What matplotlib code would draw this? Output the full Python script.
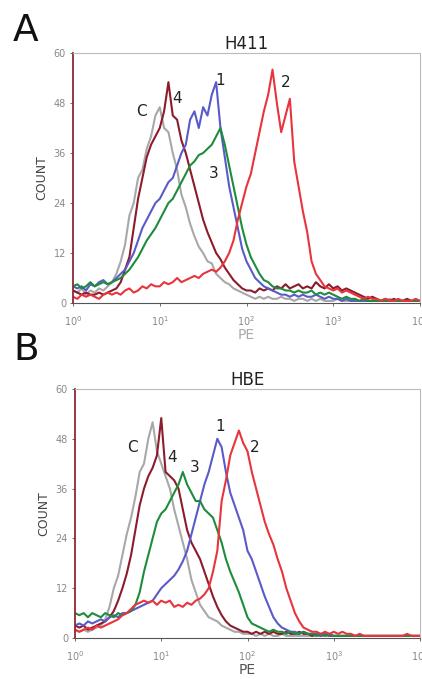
import matplotlib.pyplot as plt
import numpy as np

# histogram channels: log10(PE) from 0 to 4, step 0.05
logpe = np.arange(81) * 0.05
pe = 10 ** logpe

# ---- panel A : H411 ----
a_c = [3, 2.5, 3.5, 2, 3, 2.5, 3.5, 3, 4, 5,
       7, 10, 14, 21, 24, 30, 32, 37, 40, 45,
       47, 42, 41, 36, 32, 26, 23, 19, 16, 13.5,
       12, 10, 9.5, 7, 6, 5, 4.5, 3.5, 3, 2.5,
       2, 1.5, 1, 1.5, 1, 1.5, 1, 1, 1.5, 1,
       1, 0.5, 1, 1, 0.5, 1, 0.5, 1, 0.5, 0.5,
       0.5, 1, 0.5, 0.5, 0.5, 1, 0.5, 0.5, 0.5, 0.5,
       0.5, 0.5, 0.5, 1, 0.5, 0.5, 0.5, 0.5, 0.5, 0.5, 0.5]
a_4 = [3, 2.5, 2, 2.5, 2, 2, 2.5, 2, 2.5, 3,
       3.5, 5, 8, 11, 18, 25, 30, 35, 38, 40,
       42, 46, 53, 45, 44, 39, 36, 32, 28, 24,
       20, 17, 14.5, 12, 10.5, 8.5, 7, 5.5, 4.5, 3.5,
       3, 3, 2.5, 3.5, 3, 3.5, 3, 4, 3.5, 4.5,
       3.5, 4, 4.5, 3.5, 4, 3.5, 5, 4, 3.5, 4.5,
       3.5, 4, 3, 3.5, 3, 2.5, 2, 1.5, 1, 1.5,
       1, 0.5, 1, 0.5, 1, 0.5, 0.5, 1, 0.5, 0.5, 0.5]
a_1 = [4, 3.5, 4, 3, 4.5, 4, 5, 5.5, 4.5, 5,
       6, 7, 8, 10, 12, 15, 18, 20, 22, 24,
       25, 27, 29, 30, 33, 36, 38, 44, 46, 42,
       47, 45, 50, 53, 42, 35, 28, 23, 18, 13,
       10, 8, 6, 5, 4, 3.5, 3, 2.5, 2, 2,
       1.5, 2, 1.5, 2, 1.5, 1.5, 2, 1.5, 1, 1.5,
       1, 1, 0.5, 1, 0.5, 0.5, 0.5, 0.5, 0.5, 0.5,
       0.5, 0.5, 0.5, 0.5, 0.5, 0.5, 0.5, 0.5, 0.5, 0.5, 0.5]
a_3 = [4, 4.5, 3.5, 4, 5, 4, 4.5, 5, 4.5, 5,
       5.5, 6, 7, 8, 9.5, 11, 13, 15, 16.5, 18,
       20, 22, 24, 25, 27, 29, 31, 33, 34, 35.5,
       36, 37, 38, 40, 42, 38, 33, 28, 23, 18,
       14, 11, 9, 7, 5.5, 5, 4, 3.5, 3.5, 3,
       3, 2.5, 3, 2.5, 2.5, 3, 2, 2.5, 2, 2.5,
       2, 1.5, 1, 1.5, 1, 1, 0.5, 1, 0.5, 0.5,
       0.5, 0.5, 0.5, 0.5, 0.5, 0.5, 0.5, 0.5, 0.5, 0.5, 0.5]
a_2 = [1.5, 1, 2, 1.5, 2, 1.5, 1, 2, 2.5, 2,
       2.5, 2, 3, 3.5, 2.5, 3, 4, 3.5, 4.5, 4,
       4, 5, 4.5, 5, 6, 5, 5.5, 6, 6.5, 6,
       7, 7.5, 8, 7.5, 8.5, 10, 12, 15, 20, 24,
       28, 31, 36, 41, 46, 50, 56, 48, 41, 45,
       49, 34, 28, 22, 17, 10, 7, 5.5, 4, 3.5,
       3, 3.5, 2.5, 3, 2.5, 2, 1.5, 1, 1.5, 1,
       1, 0.5, 1, 0.5, 0.5, 1, 0.5, 0.5, 0.5, 1, 0.5]

# ---- panel B : HBE ----
b_c = [2, 1.5, 2, 1.5, 2, 2.5, 3, 4.5, 7.5, 12,
       15, 20, 25, 29, 34, 40, 42, 48, 52, 45,
       42, 39, 36, 31, 27, 23, 19, 14, 11, 8,
       6.5, 5, 4.5, 4, 3, 2.5, 2, 1.5, 1.5, 1,
       1, 1, 0.5, 1, 0.5, 1, 0.5, 0.5, 1, 0.5,
       0.5, 0.5, 0.5, 0.5, 0.5, 0.5, 0.5, 0.5, 0.5, 0.5,
       0.5, 0.5, 0.5, 0.5, 0.5, 0.5, 0.5, 0.5, 0.5, 0.5,
       0.5, 0.5, 0.5, 0.5, 0.5, 0.5, 0.5, 0.5, 0.5, 0.5, 0.5]
b_4 = [3, 2.5, 3, 2, 2.5, 3, 3.5, 4, 5, 6.5,
       9, 12, 15.5, 20, 26, 32, 36, 39, 41, 44,
       53, 40, 39, 38, 36, 31, 26, 23, 21, 19,
       16, 13, 10, 7.5, 5.5, 4, 3, 2.5, 2, 1.5,
       1.5, 1, 1.5, 1, 1.5, 1, 1.5, 1, 1, 1.5,
       1, 1, 1.5, 1, 1, 0.5, 1, 0.5, 1, 0.5,
       0.5, 0.5, 0.5, 0.5, 0.5, 0.5, 0.5, 0.5, 0.5, 0.5,
       0.5, 0.5, 0.5, 0.5, 0.5, 0.5, 0.5, 0.5, 0.5, 0.5, 0.5]
b_3 = [6, 5.5, 6, 5, 6, 5.5, 5, 6, 5.5, 5,
       6, 5.5, 6, 6.5, 8, 11, 16, 20, 24, 28,
       30, 31, 33, 35, 37, 40, 37, 35, 33, 33,
       31, 30, 29, 26, 23, 19, 16, 13.5, 11, 8,
       5, 3.5, 3, 2.5, 2, 1.5, 2, 1.5, 1.5, 1,
       1.5, 1, 1, 1.5, 1, 1, 0.5, 1, 0.5, 1,
       0.5, 0.5, 0.5, 0.5, 0.5, 0.5, 0.5, 0.5, 0.5, 0.5,
       0.5, 0.5, 0.5, 0.5, 0.5, 0.5, 0.5, 0.5, 0.5, 0.5, 0.5]
b_1 = [3, 3.5, 3, 4, 3.5, 4, 4.5, 4, 5, 5.5,
       5, 6, 6, 6.5, 7, 7.5, 8, 8.5, 9, 10.5,
       12, 13, 14, 15, 16.5, 18.5, 21, 25, 29, 33,
       37, 40, 44, 48, 46, 40, 35, 32, 29, 26,
       21, 19, 16, 13, 10, 7.5, 5, 3.5, 2.5, 2,
       1.5, 1.5, 1, 1.5, 1, 1, 1, 0.5, 1, 0.5,
       0.5, 0.5, 0.5, 0.5, 0.5, 0.5, 0.5, 0.5, 0.5, 0.5,
       0.5, 0.5, 0.5, 0.5, 0.5, 0.5, 0.5, 0.5, 0.5, 0.5, 0.5]
b_2 = [2, 1.5, 2, 2.5, 2, 3, 2.5, 3, 3.5, 4,
       4.5, 5.5, 6, 7, 8, 8.5, 9, 8.5, 9, 8,
       9, 8.5, 9, 7.5, 8, 7.5, 8.5, 8, 9, 9.5,
       10.5, 12, 16, 21, 33, 38, 44, 47, 50, 47,
       45, 40, 36, 32, 28, 25, 22.5, 19, 16, 12,
       9, 6, 4, 2.5, 2, 1.5, 1.5, 1, 1.5, 1,
       1.5, 1, 1.5, 1, 1, 0.5, 1, 0.5, 0.5, 0.5,
       0.5, 0.5, 0.5, 0.5, 0.5, 0.5, 0.5, 1, 0.5, 0.5, 0.5]

labels = ["C", "4", "1", "3", "2"]
colors = ["#a8a8a8", "#8c1c2c", "#5a5ac8", "#1e8c3c", "#e8343c"]

a_curves = [a_c, a_4, a_1, a_3, a_2]
b_curves = [b_c, b_4, b_1, b_3, b_2]

# label positions (PE, count)
a_lab_x = [10**0.79, 10**1.2, 10**1.7, 10**1.62, 10**2.45]
a_lab_y = [46, 49, 53.5, 31, 53]
b_lab_x = [10**0.67, 10**1.12, 10**1.68, 10**1.39, 10**2.08]
b_lab_y = [46, 43.5, 51, 41, 46]

fig = plt.figure(figsize=(4.22, 6.79), dpi=100)
axA = fig.add_axes([73/422, 1-303/679, 347/422, 250/679])
axB = fig.add_axes([75/422, 1-638/679, 345/422, 249/679])


def style(ax, title, pe_color):
    ax.set_xscale("log")
    ax.set_xlim(1, 1e4)
    ax.set_ylim(0, 60)
    ax.set_yticks([0, 12, 24, 36, 48, 60])
    ax.set_xticks([1, 10, 100, 1000, 10000])
    ax.set_xticklabels([r"$10^{0}$", r"$10^{1}$", r"$10^{2}$", r"$10^{3}$", r"$10^{4}$"])
    ax.minorticks_off()
    ax.tick_params(length=2, width=0.6, labelsize=7, colors="#555555", labelcolor="#888888")
    ax.tick_params(axis="x", pad=6)
    ax.tick_params(axis="y", pad=3)
    ax.spines["left"].set_color("#8c2a30")
    ax.spines["left"].set_linewidth(1.3)
    ax.spines["bottom"].set_color("#555555")
    ax.spines["top"].set_color("#bbbbbb")
    ax.spines["right"].set_color("#bbbbbb")
    ax.set_title(title, fontsize=12, color="#222222", pad=3)
    ax.set_ylabel("COUNT", fontsize=9, color="#444444", labelpad=4)
    ax.set_xlabel("PE", fontsize=10, color=pe_color, labelpad=0)


for ax, curves, lx, ly in [(axA, a_curves, a_lab_x, a_lab_y), (axB, b_curves, b_lab_x, b_lab_y)]:
    for vals, col in zip(curves, colors):
        ax.plot(pe, vals, color=col, lw=1.5)
    for t, x, y in zip(labels, lx, ly):
        ax.text(x, y, t, fontsize=11, color="#222222", ha="center", va="center")

style(axA, "H411", "#aaaaaa")
style(axB, "HBE", "#555555")

fig.text(13/422, 1-31/679, "A", fontsize=27, color="#111111", va="center")
fig.text(13/422, 1-350/679, "B", fontsize=27, color="#111111", va="center")

fig.savefig("out.png", dpi=100)
